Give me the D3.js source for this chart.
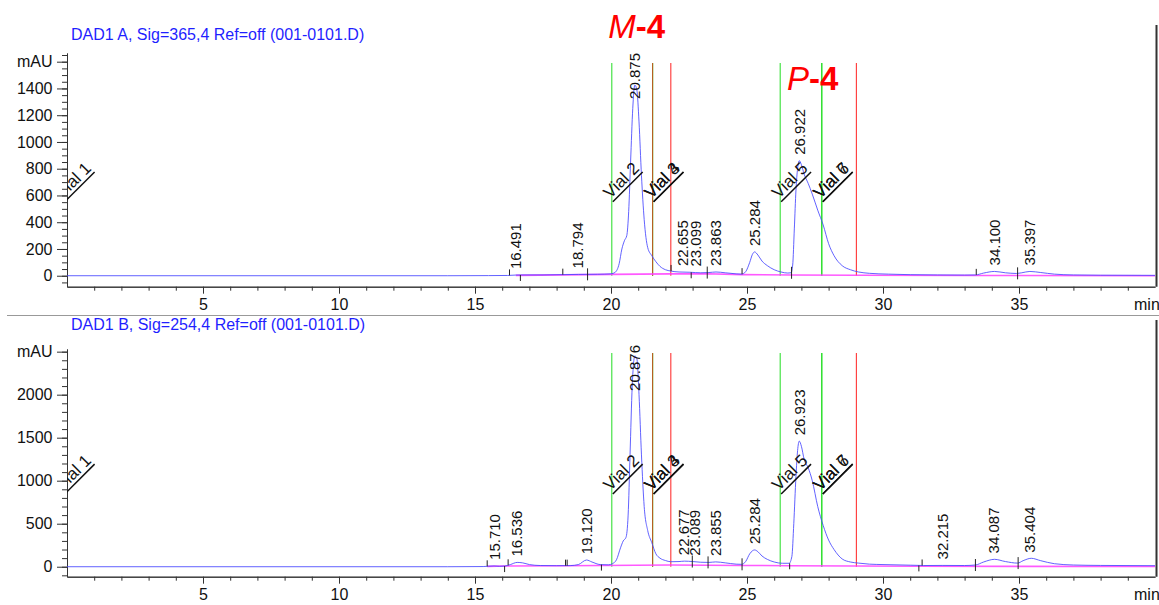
<!DOCTYPE html>
<html>
<head>
<meta charset="utf-8">
<script src="https://cdn.jsdelivr.net/npm/d3@7"></script>
<style>
  body { margin: 0; background: #fff; }
  svg { display: block; font-family: "Liberation Sans", Arial, sans-serif; }
  .axis path, .axis line { stroke: #333; }
  .axis text { font-size: 16px; fill: #111; font-family: "Liberation Sans", Arial, sans-serif; }
</style>
</head>
<body>
<div id="container"></div>
<script>
const w = 1159;
const h = 605;

// Signal A (365 nm): [time min, mAU]
const signalA = [
  [0, 0], [5, 0], [10, 0], [14, 0], [15.5, 1], [16.2, 2], [16.5, 5], [16.8, 6], [17.5, 6], [18.2, 8],
  [18.8, 10], [19.5, 11], [20.0, 14], [20.15, 25], [20.3, 90], [20.4, 200], [20.5, 265], [20.58, 300],
  [20.65, 480], [20.72, 850], [20.8, 1250], [20.875, 1425], [20.95, 1390], [21.03, 1150], [21.12, 750],
  [21.22, 420], [21.35, 210], [21.5, 150], [21.65, 105], [21.8, 70], [22.0, 45], [22.2, 35], [22.5, 28],
  [22.9, 26], [23.3, 22], [23.6, 24], [23.86, 28], [24.2, 22], [24.6, 14], [24.8, 12], [24.95, 30],
  [25.1, 100], [25.2, 160], [25.28, 178], [25.4, 155], [25.55, 110], [25.75, 75], [26.0, 45], [26.25, 28],
  [26.5, 20], [26.62, 22], [26.68, 80], [26.74, 350], [26.8, 640], [26.86, 800], [26.92, 860], [27.0, 830],
  [27.1, 760], [27.25, 690], [27.4, 610], [27.6, 490], [27.8, 380], [28.0, 240], [28.2, 150], [28.5, 75],
  [28.8, 45], [29.1, 28], [29.5, 18], [30.2, 12], [31, 8], [32, 6], [33, 5], [33.4, 6], [33.7, 20],
  [34.1, 32], [34.5, 22], [34.9, 17], [35.1, 22], [35.4, 32], [35.8, 24], [36.3, 12], [37, 6], [38, 4], [40, 3]
];

// Signal B (254 nm)
const signalB = [
  [0, 0], [5, 0], [10, 0], [14, 0], [15.3, 2], [15.5, 6], [15.7, 9], [15.9, 5], [16.1, 8], [16.3, 25],
  [16.55, 50], [16.75, 45], [17.0, 25], [17.4, 14], [18, 12], [18.5, 13], [18.8, 25], [19.1, 78], [19.3, 55],
  [19.6, 25], [19.9, 22], [20.05, 35], [20.2, 80], [20.35, 220], [20.45, 300], [20.55, 340], [20.63, 600],
  [20.7, 1300], [20.78, 2100], [20.876, 2450], [20.95, 2420], [21.03, 2000], [21.12, 1300], [21.22, 700],
  [21.35, 420], [21.5, 280], [21.65, 150], [21.8, 100], [22.0, 72], [22.2, 58], [22.5, 60], [22.7, 65],
  [23.0, 60], [23.3, 52], [23.6, 50], [23.85, 56], [24.2, 45], [24.6, 30], [24.8, 28], [24.95, 60],
  [25.1, 150], [25.2, 185], [25.28, 195], [25.4, 175], [25.55, 125], [25.75, 85], [26.0, 55], [26.3, 40],
  [26.55, 40], [26.65, 120], [26.72, 500], [26.8, 1050], [26.86, 1350], [26.92, 1460], [27.0, 1400],
  [27.1, 1250], [27.25, 1150], [27.4, 1000], [27.6, 700], [27.8, 480], [28.0, 310], [28.2, 200], [28.5, 90],
  [28.8, 55], [29.1, 42], [29.5, 30], [30, 25], [31, 18], [31.5, 14], [32.2, 15], [33, 14], [33.4, 20],
  [33.7, 55], [34.1, 86], [34.5, 60], [34.95, 42], [35.15, 70], [35.45, 98], [35.8, 70], [36.3, 35],
  [37, 20], [38, 15], [40, 12]
];

// integration baselines (magenta)
const baselineA = [[16.5, 3], [19.12, 8], [20.03, 10], [22.19, 14], [23.52, 15], [24.8, 8], [26.62, 6], [29.0, 4], [33.41, 2], [40, 0]];
const baselineB = [[15.45, 4], [16.2, 8], [18.3, 12], [19.63, 14], [22.2, 20], [24.8, 15], [26.55, 12], [31.3, 6], [40, 2]];

// peak retention times
const peakTimesA = [16.491, 18.794, 20.875, 22.655, 23.099, 23.863, 25.284, 26.922, 34.100, 35.397];
const peakTimesB = [15.710, 16.536, 19.120, 20.876, 22.677, 23.089, 23.855, 25.284, 26.923, 32.215, 34.087, 35.404];

// peak start/end tick marks: [time, 'u' up | 'd' down | 'b' both]
const markersA = [[16.25, 'u'], [16.65, 'd'], [18.21, 'u'], [19.12, 'b'], [22.19, 'u'], [22.93, 'd'], [23.52, 'b'], [24.80, 'u'], [26.62, 'b'], [33.41, 'u'], [34.93, 'b']];
const markersB = [[15.43, 'u'], [16.07, 'd'], [16.2, 'u'], [18.31, 'u'], [18.37, 'u'], [19.63, 'd'], [22.97, 'b'], [23.55, 'b'], [24.8, 'b'], [26.55, 'd'], [31.3, 'd'], [31.42, 'u'], [33.38, 'b'], [34.95, 'b']];

// fraction collection
const vialNames = ['Vial 1', 'Vial 2', 'Vial 3', 'Vial 4', 'Vial 5', 'Vial 6', 'Vial 7'];
const vialStartTimes = [-0.12, 20.03, 21.53, 21.53, 26.22, 27.75, 27.75];
const fractionEndTimes = [21.53, 22.2, 29.02];

// axis ticks
const xTicks = [5, 10, 15, 20, 25, 30, 35];
const yTicksA = [0, 200, 400, 600, 800, 1000, 1200, 1400];
const yTicksB = [0, 500, 1000, 1500, 2000];

const panels = [
  { title: 'DAD1 A, Sig=365,4 Ref=off (001-0101.D)', signal: signalA, base: baselineA, peaks: peakTimesA,
    markers: markersA, yTicks: yTicksA, unitAt: 1600, minorStep: 50, domain: [-82, 1665],
    top: 53, bottom: 286.7, titleY: 40, borderTop: 25, lineTop: 63, labelTop: 53 },
  { title: 'DAD1 B, Sig=254,4 Ref=off (001-0101.D)', signal: signalB, base: baselineB, peaks: peakTimesB,
    markers: markersB, yTicks: yTicksB, unitAt: 2500, minorStep: 100, domain: [-116, 2531],
    top: 349, bottom: 576.7, titleY: 330, borderTop: 320, lineTop: 353, labelTop: 345 }
];

const svg = d3.select('#container')
              .append('svg')
              .attr('width', w)
              .attr('height', h);

const xScale = d3.scaleLinear().domain([0, 40]).range([67, 1155]);
const fmt = d3.format('.3f');

// separator between the two signals
svg.append('line')
   .attr('x1', 7).attr('x2', w)
   .attr('y1', 315.5).attr('y2', 315.5)
   .attr('stroke', '#999');

panels.forEach((p, i) => drawPanel(p, i));

// compound annotations
svg.append('text')
   .attr('x', xScale(19.9)).attr('y', 38)
   .attr('fill', '#ff0000').style('font-size', '33px')
   .call(t => {
     t.append('tspan').style('font-style', 'italic').text('M');
     t.append('tspan').style('font-weight', 'bold').text('-4');
   });
svg.append('text')
   .attr('x', xScale(26.47)).attr('y', 90)
   .attr('fill', '#ff0000').style('font-size', '33px')
   .call(t => {
     t.append('tspan').style('font-style', 'italic').text('P');
     t.append('tspan').style('font-weight', 'bold').text('-4');
   });

function valueAt(series, t) {
  const i = d3.bisector(d => d[0]).left(series, t);
  if (i <= 0) return series[0][1];
  if (i >= series.length) return series[series.length - 1][1];
  const a = series[i - 1], b = series[i];
  return a[1] + (b[1] - a[1]) * (t - a[0]) / (b[0] - a[0]);
}

function drawPanel(p, i) {
  const yScale = d3.scaleLinear().domain(p.domain).range([p.bottom, p.top]);
  const g = svg.append('g');
  const clipId = 'clip' + i;

  svg.append('clipPath').attr('id', clipId)
     .append('rect')
     .attr('x', 67).attr('y', p.top - 30)
     .attr('width', 1090).attr('height', p.bottom - p.top + 30);

  g.append('text')
   .attr('x', 71).attr('y', p.titleY)
   .attr('fill', '#1f1fff')
   .style('font-size', '16px')
   .text(p.title);

  // right border
  g.append('line')
   .attr('x1', 1156.5).attr('x2', 1156.5)
   .attr('y1', p.borderTop).attr('y2', p.bottom)
   .attr('stroke', '#333').attr('stroke-width', 2);

  // x axis
  const xMinor = d3.range(1, 40).filter(v => v % 5 !== 0);
  g.append('g').attr('class', 'axis')
   .attr('transform', `translate(0, ${p.bottom})`)
   .call(d3.axisBottom(xScale).tickValues(xMinor).tickSize(4).tickSizeOuter(0).tickFormat(''));
  g.append('g').attr('class', 'axis')
   .attr('transform', `translate(0, ${p.bottom})`)
   .call(d3.axisBottom(xScale).tickValues(xTicks).tickSize(7).tickPadding(5).tickSizeOuter(0).tickFormat(d3.format('d')));
  g.append('text')
   .attr('x', 1134).attr('y', p.bottom + 23.5)
   .style('font-size', '16px').attr('fill', '#111')
   .text('min');

  // y axis
  const yMinor = d3.range(-p.minorStep, p.domain[1], p.minorStep);
  g.append('g').attr('class', 'axis')
   .attr('transform', 'translate(67, 0)')
   .call(d3.axisLeft(yScale).tickValues(yMinor).tickSize(5).tickSizeOuter(0).tickFormat(''));
  g.append('g').attr('class', 'axis')
   .attr('transform', 'translate(67, 0)')
   .call(d3.axisLeft(yScale).tickValues(p.yTicks.concat([p.unitAt])).tickSize(10).tickPadding(4.5).tickSizeOuter(0)
          .tickFormat(d => d === p.unitAt ? 'mAU' : d));

  const plot = g.append('g').attr('clip-path', `url(#${clipId})`);
  const y0 = yScale(0);

  // fraction start (green) and end (red) lines
  plot.selectAll('.fstart')
      .data(vialStartTimes)
      .join('line')
      .attr('x1', d => xScale(d)).attr('x2', d => xScale(d))
      .attr('y1', p.lineTop).attr('y2', y0)
      .attr('stroke', '#22dd22').attr('stroke-width', 1);
  plot.selectAll('.fend')
      .data(fractionEndTimes)
      .join('line')
      .attr('x1', d => xScale(d)).attr('x2', d => xScale(d))
      .attr('y1', p.lineTop).attr('y2', y0)
      .attr('stroke', '#ff2020').attr('stroke-width', 1)
      .attr('stroke-opacity', d => vialStartTimes.includes(d) ? 0.75 : 1);

  // integration baseline
  plot.append('path')
      .datum(p.base)
      .attr('fill', 'none')
      .attr('stroke', '#ff3cff').attr('stroke-width', 1.6).attr('stroke-opacity', 0.85)
      .attr('d', d3.line().x(d => xScale(d[0])).y(d => yScale(d[1])));

  // signal
  plot.append('path')
      .datum(p.signal)
      .attr('fill', 'none')
      .attr('stroke', '#4646ff').attr('stroke-width', 1).attr('stroke-opacity', 0.85)
      .attr('d', d3.line().curve(d3.curveMonotoneX).x(d => xScale(d[0])).y(d => yScale(d[1])));

  // peak start/end marks
  plot.selectAll('.mark')
      .data(p.markers)
      .join('line')
      .attr('x1', d => xScale(d[0]) + 0.5).attr('x2', d => xScale(d[0]) + 0.5)
      .attr('y1', d => yScale(valueAt(p.signal, d[0])) + (d[1] === 'd' ? 0 : -6))
      .attr('y2', d => yScale(valueAt(p.signal, d[0])) + (d[1] === 'u' ? 0 : 6))
      .attr('stroke', '#222').attr('stroke-width', 1);

  // vial labels
  const vialY = p.bottom - 0.372 * (p.bottom - p.top) + 2;
  const vial = plot.selectAll('.vial')
      .data(vialNames)
      .join('g')
      .attr('transform', (d, k) => `translate(${xScale(vialStartTimes[k]) + 1}, ${vialY}) rotate(-45)`);
  vial.append('text')
      .attr('x', 0).attr('y', -3.5)
      .style('font-size', '17px').attr('fill', '#111')
      .text(d => d);
  vial.each(function () {
    const len = d3.select(this).select('text').node().getComputedTextLength();
    d3.select(this).append('line')
      .attr('x1', 0).attr('x2', len).attr('y1', 0).attr('y2', 0)
      .attr('stroke', '#111').attr('stroke-width', 1.5);
  });

  // peak labels
  g.selectAll('.peak')
   .data(p.peaks)
   .join('text')
   .style('font-size', '15px').attr('fill', '#111')
   .attr('dy', '0.35em')
   .text(d => fmt(d))
   .each(function (d) {
     const len = this.getComputedTextLength();
     let yy = yScale(valueAt(p.signal, d)) - 6;
     if (yy - len < p.labelTop) yy = p.labelTop + len;
     d3.select(this).attr('transform', `translate(${xScale(d)}, ${yy}) rotate(-90)`);
   });
}
</script>
</body>
</html>
